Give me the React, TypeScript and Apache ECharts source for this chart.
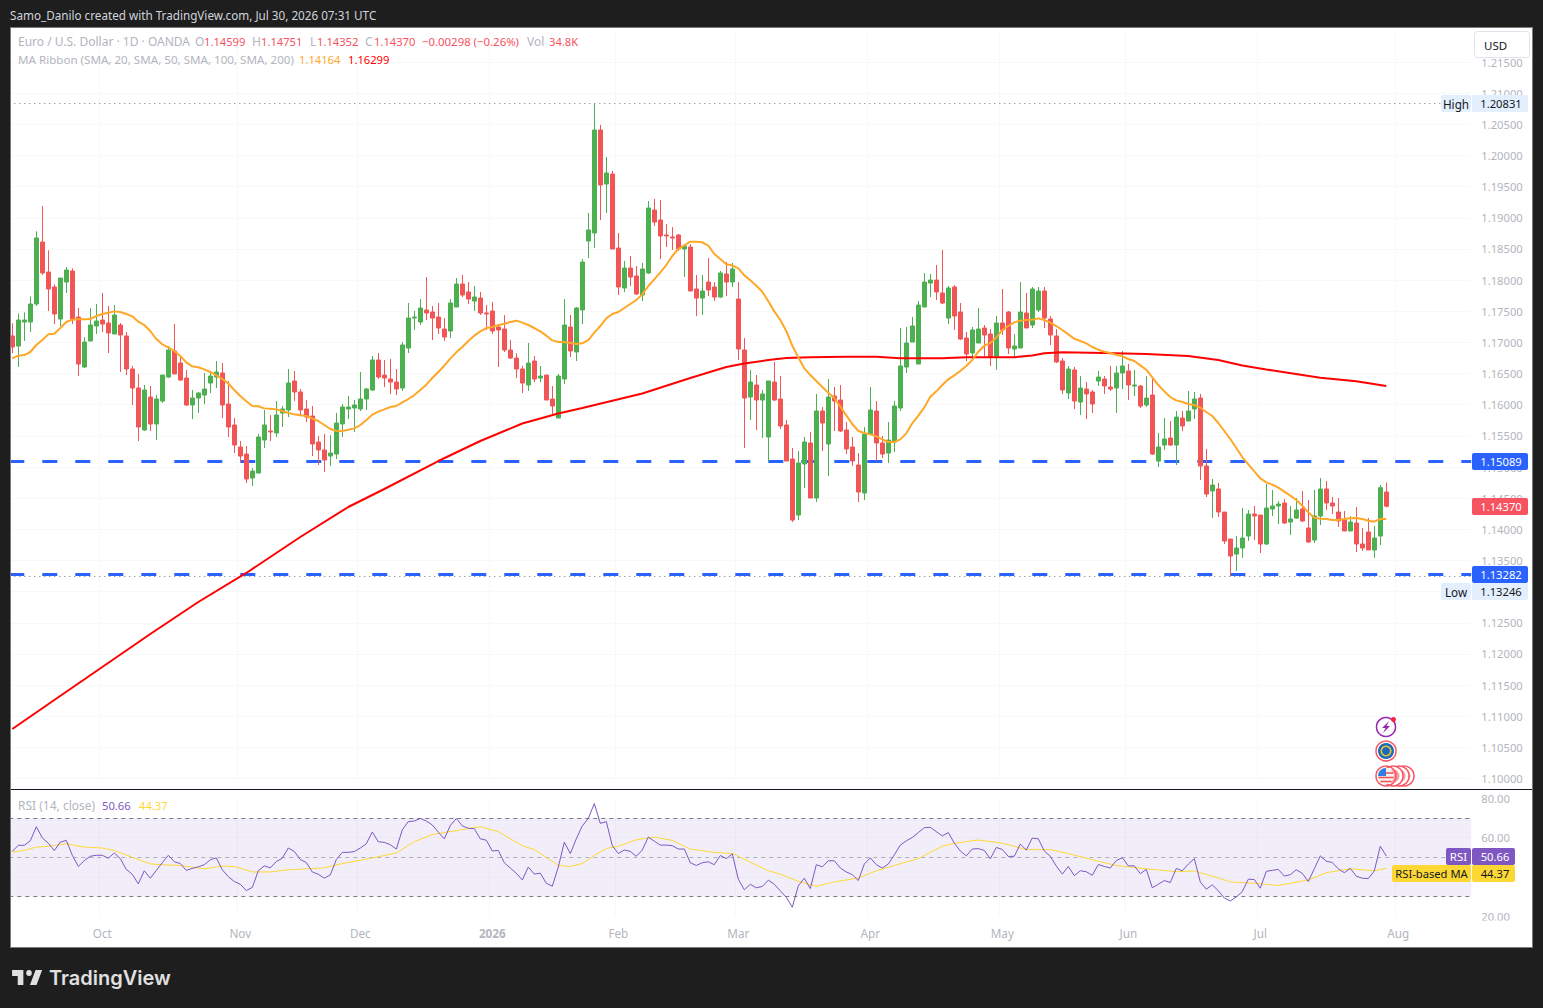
import React, { useEffect, useRef } from "react";
import * as echarts from "echarts";

const FONT = '"Noto Sans", sans-serif';
const GREEN = "#4caf50";
const RED = "#f25555";

// each row: open, close, low, high
const candles2025a = [
[1.17103,1.16926,1.16830,1.17306],[1.16942,1.17359,1.16605,1.17466],[1.17327,1.17359,1.17022,1.17482],[1.17327,1.17616,1.17167,1.17739],
[1.17616,1.18676,1.17584,1.18783],[1.18611,1.18114,1.18082,1.19189],[1.18130,1.17857,1.17504,1.18478],[1.17889,1.17456,1.17295,1.17932],
[1.17375,1.18033,1.17263,1.18033],[1.17969,1.18162,1.17793,1.18210],[1.18146,1.17375,1.17295,1.18189],[1.17407,1.16653,1.16460,1.17552],
[1.16605,1.17006,1.16589,1.17086],[1.17022,1.17279,1.17022,1.17552],[1.17263,1.17343,1.17135,1.17616],[1.17359,1.17295,1.17167,1.17793],
[1.17311,1.17151,1.16830,1.17584],[1.17135,1.17440,1.17135,1.17600],[1.17279,1.17119,1.16525,1.17311],[1.17103,1.16573,1.16476,1.17167],
[1.16573,1.16268,1.15995,1.16621],[1.16268,1.15642,1.15417,1.16493],[1.15594,1.16236,1.15578,1.16316],[1.16123,1.15690,1.15578,1.16300],
[1.15690,1.16091,1.15433,1.16155],[1.16059,1.16476,1.16027,1.16476],[1.16444,1.16878,1.16428,1.16942],[1.16862,1.16493,1.16493,1.17295],
[1.16669,1.16396,1.16380,1.16771],[1.16428,1.15995,1.15979,1.16557],[1.15995,1.16107,1.15770,1.16236],[1.16107,1.16188,1.15866,1.16204],
[1.16155,1.16252,1.16011,1.16509],[1.16348,1.16460,1.16188,1.16525],[1.16444,1.16525,1.16268,1.16701],[1.16509,1.15995,1.15786,1.16669],
[1.16011,1.15642,1.15481,1.16380],[1.15674,1.15353,1.15224,1.15786],[1.15321,1.15176,1.15064,1.15417],[1.15208,1.14807,1.14743,1.15337],
[1.14823,1.14935,1.14695,1.14984],[1.14903,1.15481,1.14903,1.15529],[1.15433,1.15674,1.15305,1.15915],[1.15578,1.15562,1.15417,1.15835],
[1.15546,1.15835,1.15481,1.16059],[1.15866,1.15931,1.15642,1.15979],[1.15915,1.16348,1.15802,1.16573],[1.16380,1.16204,1.16059,1.16541],
[1.16204,1.15915,1.15818,1.16252],[1.15931,1.15802,1.15722,1.16075],[1.15818,1.15369,1.15176,1.15979],[1.15401,1.15273,1.15032,1.15497],
[1.15273,1.15112,1.14919,1.15529],[1.15176,1.15224,1.15016,1.15513],[1.15208,1.15706,1.15128,1.15866],[1.15690,1.15963,1.15481,1.16011],
[1.15931,1.15963,1.15770,1.16139],[1.15947,1.15995,1.15562,1.16075],[1.15931,1.16091,1.15899,1.16525],[1.16091,1.16252,1.15915,1.16268],
[1.16236,1.16717,1.16220,1.16781],[1.16717,1.16444,1.16412,1.16830],[1.16476,1.16428,1.16284,1.16717],[1.16412,1.16364,1.16172,1.16733],
[1.16364,1.16252,1.16155,1.16573],[1.16268,1.16958,1.16220,1.17006],[1.16910,1.17391,1.16830,1.17632],[1.17391,1.17407,1.17199,1.17504],
[1.17327,1.17552,1.17279,1.17696],[1.17520,1.17472,1.17359,1.18049],[1.17488,1.17391,1.17038,1.17584],[1.17407,1.17231,1.17135,1.17632],
[1.17215,1.17086,1.17022,1.17391],[1.17183,1.17632,1.17070,1.17696],[1.17568,1.17937,1.17568,1.18033],[1.17937,1.17761,1.17728,1.18082],
[1.17809,1.17696,1.17616,1.17969],[1.17664,1.17728,1.17504,1.17905],[1.17712,1.17472,1.17440,1.17809],[1.17472,1.17456,1.17199,1.17600],
];
const candles2026a = [
[1.17504,1.17183,1.17135,1.17648],[1.17247,1.17199,1.16605,1.17295],[1.17215,1.16878,1.16846,1.17440],[1.16878,1.16749,1.16733,1.17038],
[1.16749,1.16573,1.16428,1.16830],[1.16573,1.16348,1.16188,1.16621],[1.16316,1.16669,1.16220,1.16990],[1.16701,1.16412,1.16364,1.16781],
[1.16428,1.16460,1.16364,1.16621],[1.16476,1.16075,1.16075,1.16476],[1.16091,1.15979,1.15850,1.16300],[1.15786,1.16460,1.15786,1.16493],
[1.16412,1.17279,1.16332,1.17696],[1.17247,1.16862,1.16765,1.17440],[1.16846,1.17552,1.16701,1.17568],[1.17520,1.18290,1.17295,1.18338],
[1.18627,1.18804,1.18354,1.19077],[1.18756,1.20409,1.18515,1.20831],[1.20409,1.19526,1.18964,1.20489],[1.19542,1.19719,1.19077,1.19976],
[1.19703,1.18499,1.18499,1.19751],[1.18515,1.17889,1.17761,1.18756],[1.17873,1.18194,1.17809,1.18306],[1.18194,1.18049,1.17905,1.18387],
[1.18066,1.17777,1.17761,1.18226],[1.17761,1.18178,1.17664,1.18274],[1.18114,1.19157,1.18098,1.19269],[1.19125,1.18932,1.18868,1.19302],
[1.18964,1.18708,1.18338,1.19285],[1.18724,1.18708,1.18531,1.18900],[1.18692,1.18676,1.18483,1.18852],[1.18724,1.18499,1.18467,1.18740],
[1.18499,1.18547,1.18049,1.18547],[1.18531,1.17825,1.17825,1.18579],[1.17857,1.17712,1.17424,1.18082],[1.17712,1.17825,1.17440,1.18082],
[1.17969,1.17841,1.17745,1.18354],[1.17889,1.17728,1.17664,1.17969],[1.17728,1.18114,1.17712,1.18146],[1.18098,1.17969,1.17745,1.18290],
[1.17969,1.18178,1.17889,1.18274],[1.17696,1.16894,1.16717,1.17969],[1.16878,1.16107,1.15305,1.17070],[1.16123,1.16364,1.15754,1.16557],
[1.16316,1.16075,1.15594,1.16476],[1.16075,1.16172,1.15465,1.16236],[1.15481,1.16380,1.15080,1.16380],[1.16364,1.16075,1.16059,1.16685],
[1.16091,1.15658,1.15610,1.16460],[1.15674,1.15096,1.15096,1.15754],[1.15128,1.14149,1.14117,1.15305],[1.14229,1.15064,1.14149,1.15256],
[1.15048,1.15401,1.14663,1.15481],[1.15385,1.14502,1.14502,1.15562],[1.14502,1.15899,1.14438,1.16172],[1.15899,1.15706,1.15256,1.15963],
[1.15369,1.16123,1.14855,1.16412],[1.16139,1.16059,1.15578,1.16284],[1.16075,1.15578,1.15562,1.16316],[1.15594,1.15289,1.15208,1.15722],
[1.15321,1.15096,1.15016,1.15481],[1.15032,1.14598,1.14438,1.15224],[1.14582,1.15529,1.14470,1.15642],[1.15529,1.15915,1.15529,1.16284],
[1.15899,1.15385,1.15096,1.16059],[1.15385,1.15208,1.15144,1.15497],[1.15224,1.15433,1.15064,1.15722],[1.15401,1.15979,1.15240,1.16059],
[1.15947,1.16621,1.15899,1.17231],[1.16605,1.16990,1.16509,1.17247],[1.17006,1.17263,1.17006,1.17407],[1.16653,1.17600,1.16653,1.17664],
[1.17568,1.17969,1.17568,1.18114],[1.17953,1.18001,1.17728,1.18098],[1.18001,1.17809,1.17680,1.18242],[1.17793,1.17632,1.17616,1.18483],
[1.17391,1.17873,1.17295,1.17905],[1.17889,1.17424,1.17199,1.17921],[1.17488,1.17054,1.17038,1.17632],[1.17070,1.16814,1.16701,1.17167],
];
const candles2026b = [
[1.16830,1.17199,1.16733,1.17247],[1.16990,1.17215,1.16990,1.17552],[1.17231,1.17119,1.16781,1.17279],[1.17135,1.16765,1.16621,1.17215],
[1.16781,1.17311,1.16557,1.17424],[1.17311,1.17199,1.17119,1.17857],[1.17488,1.16910,1.16814,1.17504],[1.16894,1.16942,1.16765,1.17135],
[1.16910,1.17488,1.16910,1.17969],[1.17472,1.17231,1.17231,1.17793],[1.17279,1.17857,1.17231,1.17889],[1.17520,1.17825,1.17488,1.17889],
[1.17825,1.17391,1.17231,1.17889],[1.17375,1.17119,1.16958,1.17424],[1.17103,1.16685,1.16669,1.17215],[1.16701,1.16236,1.16172,1.16749],
[1.16188,1.16573,1.16091,1.16621],[1.16557,1.16059,1.15931,1.16605],[1.16043,1.16268,1.15835,1.16460],[1.16252,1.16172,1.15770,1.16364],
[1.16204,1.16011,1.15866,1.16236],[1.16380,1.16444,1.16300,1.16541],[1.16412,1.16300,1.16172,1.16460],[1.16284,1.16252,1.16220,1.16621],
[1.16268,1.16509,1.15866,1.16621],[1.16509,1.16621,1.16252,1.16862],[1.16541,1.16316,1.16075,1.16653],[1.16300,1.16316,1.16139,1.16557],
[1.16300,1.15979,1.15947,1.16316],[1.15995,1.16107,1.15963,1.16460],[1.16155,1.15208,1.15192,1.16444],[1.15096,1.15321,1.15000,1.15546],
[1.15353,1.15449,1.15273,1.15786],[1.15465,1.15353,1.15337,1.15738],[1.15353,1.15802,1.15032,1.15899],[1.15786,1.15658,1.15578,1.15899],
[1.15738,1.15899,1.15738,1.16220],[1.15931,1.16091,1.15770,1.16204],[1.16107,1.15016,1.14791,1.16172],[1.15016,1.14566,1.14518,1.15289],
[1.14614,1.14711,1.14181,1.14807],[1.14647,1.14277,1.14197,1.14743],[1.14277,1.13812,1.13764,1.14277],[1.13844,1.13571,1.13246,1.13844],
[1.13603,1.13700,1.13330,1.13892],[1.13700,1.13860,1.13539,1.14342],[1.13892,1.14245,1.13812,1.14310],[1.14245,1.14213,1.13828,1.14374],
[1.14229,1.13764,1.13619,1.14229],[1.13764,1.14342,1.13748,1.14727],[1.14326,1.14374,1.14213,1.14631],[1.14374,1.14406,1.14085,1.14454],
[1.14422,1.14101,1.14085,1.14486],[1.14117,1.14165,1.13908,1.14374],[1.14181,1.14310,1.14165,1.14502],[1.14326,1.14133,1.14117,1.14614],
[1.14021,1.13796,1.13780,1.14470],[1.13828,1.14213,1.13780,1.14631],[1.14213,1.14647,1.14069,1.14823],[1.14647,1.14422,1.14310,1.14775],
[1.14422,1.14374,1.14245,1.14518],[1.14277,1.14133,1.14037,1.14502],[1.14149,1.13973,1.13973,1.14293],[1.13973,1.14117,1.13973,1.14213],
[1.14101,1.13764,1.13635,1.14358],[1.13764,1.13700,1.13651,1.14021],[1.13957,1.13668,1.13668,1.14181],[1.13668,1.13860,1.13539,1.14053],
[1.13892,1.14668,1.13748,1.14711],[1.14599,1.14370,1.14352,1.14751],
];

const ma20 = [
1.16744,1.16787,1.16797,1.16846,1.16958,1.17038,1.17129,1.17140,1.17231,1.17327,1.17365,1.17370,1.17370,1.17375,1.17424,1.17456,1.17477,1.17498,1.17488,1.17456,
1.17418,1.17333,1.17279,1.17183,1.17054,1.16969,1.16921,1.16862,1.16781,1.16680,1.16616,1.16600,1.16567,1.16525,1.16471,1.16412,1.16343,1.16236,1.16139,1.16054,
1.15979,1.15974,1.15941,1.15936,1.15925,1.15899,1.15866,1.15845,1.15829,1.15818,1.15776,1.15738,1.15674,1.15610,1.15583,1.15578,1.15599,1.15620,1.15674,1.15754,
1.15840,1.15888,1.15925,1.15963,1.15979,1.16038,1.16091,1.16155,1.16236,1.16321,1.16428,1.16525,1.16626,1.16739,1.16840,1.16926,1.17022,1.17108,1.17177,1.17231,
1.17247,1.17274,1.17300,1.17327,1.17349,1.17317,1.17279,1.17231,1.17177,1.17108,1.17033,1.17006,1.17006,1.16990,1.16974,1.16985,1.17038,1.17156,1.17263,1.17386,
1.17456,1.17488,1.17552,1.17616,1.17680,1.17771,1.17905,1.18012,1.18124,1.18242,1.18387,1.18499,1.18558,1.18617,1.18617,1.18606,1.18553,1.18419,1.18338,1.18253,
1.18237,1.18189,1.18076,1.17996,1.17910,1.17814,1.17659,1.17498,1.17359,1.17183,1.16947,1.16760,1.16583,1.16476,1.16380,1.16284,1.16193,1.16107,1.15968,1.15829,
1.15690,1.15578,1.15546,1.15524,1.15492,1.15444,1.15401,1.15401,1.15444,1.15540,1.15701,1.15824,1.15957,1.16128,1.16214,1.16316,1.16407,1.16471,1.16541,1.16621,
1.16717,1.16851,1.16947,1.16990,1.17076,1.17199,1.17263,1.17322,1.17349,1.17359,1.17365,1.17386,1.17359,1.17317,1.17263,1.17199,1.17129,1.17059,1.17022,1.16985,
1.16926,1.16883,1.16851,1.16830,1.16803,1.16776,1.16733,1.16701,1.16632,1.16562,1.16439,1.16316,1.16214,1.16123,1.16070,1.16043,1.16011,1.15995,1.15952,1.15883,
1.15818,1.15706,1.15578,1.15449,1.15305,1.15160,1.15043,1.14930,1.14818,1.14754,1.14716,1.14668,1.14604,1.14540,1.14470,1.14379,1.14272,1.14186,1.14170,1.14165,
1.14149,1.14149,1.14165,1.14176,1.14181,1.14165,1.14138,1.14122,1.14165,1.14164,
];

// [candle number, value] as read at the places where the line bends
const ma200 = [
[0,1.10795],[7,1.11260],[15,1.11790],[23,1.12320],[31,1.12833],[39,1.13299],[48,1.13876],[56,1.14358],[62,1.14647],[71,1.15096],
[78,1.15417],[85,1.15698],[91,1.15859],[95,1.15947],[105,1.16180],[113,1.16429],[119,1.16605],[122,1.16661],[126,1.16717],[129,1.16750],
[133,1.16761],[139,1.16770],[144,1.16770],[148,1.16745],[155,1.16745],[159,1.16761],[167,1.16761],[170,1.16790],[172,1.16825],[175,1.16841],
[182,1.16830],[189,1.16814],[196,1.16782],[201,1.16717],[205,1.16629],[209,1.16565],[215,1.16477],[218,1.16433],[224,1.16376],[229,1.16299],
];

const rsi = [
53.0,56.1,56.1,58.4,65.6,59.9,57.2,53.4,57.7,58.6,51.0,45.3,48.3,50.5,51.0,51.0,49.5,52.2,49.3,43.8,
41.3,36.4,43.1,39.3,43.3,47.2,51.0,47.7,46.8,43.3,44.3,45.1,46.2,48.7,49.7,43.6,40.1,37.6,36.2,33.0,
34.6,43.1,45.6,44.6,47.8,49.5,54.7,53.0,48.8,47.3,42.5,41.3,39.3,41.0,48.8,52.5,52.5,52.9,54.7,56.9,
62.9,57.9,57.6,56.4,54.2,64.0,68.2,68.5,69.8,68.5,66.5,62.8,59.4,66.2,69.8,66.0,64.8,64.6,59.4,58.7,
53.2,53.5,47.2,44.5,41.8,38.4,45.0,41.4,41.9,36.7,35.2,45.0,57.7,51.9,59.4,66.0,69.8,77.4,67.3,68.2,
55.9,51.9,53.7,53.0,50.5,53.7,60.3,58.2,56.2,56.2,55.9,54.2,54.2,47.2,45.8,47.2,47.7,46.2,50.9,49.3,
51.7,38.8,33.4,36.2,34.4,35.1,38.3,36.2,32.9,29.5,24.5,35.4,39.3,34.0,46.2,45.1,48.2,48.2,44.5,42.5,
41.1,38.1,46.5,49.7,46.2,44.5,46.5,51.2,56.2,58.4,60.1,62.6,65.1,65.3,63.1,60.9,62.6,57.2,53.2,50.7,
54.2,54.4,53.5,49.2,55.0,54.0,50.4,50.5,56.7,53.7,59.8,59.4,53.2,50.5,45.5,41.4,45.3,40.6,43.1,42.6,
40.8,46.3,45.3,44.5,48.3,49.8,45.6,45.6,41.6,43.8,34.4,36.2,38.1,37.1,44.3,43.1,46.5,49.3,37.4,33.7,
35.9,32.9,29.2,27.7,29.7,32.5,38.8,38.6,34.2,42.8,43.3,43.8,40.4,41.1,43.6,41.8,37.6,44.1,50.7,48.0,
47.3,44.1,42.1,44.3,40.3,39.3,39.1,43.0,55.6,50.66,
];

// [candle number, value]
const rsiMa = [
[0,52.7],[2,53.5],[4,55.2],[6,55.6],[9,56.9],[12,55.2],[15,54.7],[17,53.5],[20,50.0],[23,46.6],[25,46.2],[28,45.8],[32,44.1],[35,45.5],[37,45.3],
[40,42.5],[43,42.5],[46,43.6],[49,44.1],[52,44.6],[55,46.8],[59,49.0],[64,52.2],[67,57.9],[70,61.6],[74,63.6],[78,65.6],[81,63.1],[83,59.4],[85,55.9],
[87,53.9],[89,50.0],[91,45.8],[93,45.3],[95,46.8],[97,50.9],[99,54.5],[101,55.6],[104,58.9],[107,60.3],[110,58.6],[113,54.2],[117,52.5],[120,51.9],[123,47.5],
[126,43.1],[128,41.4],[131,37.7],[134,35.2],[137,37.4],[141,39.4],[144,43.1],[147,45.8],[151,49.3],[155,55.6],[157,57.2],[161,58.8],[165,57.2],[169,53.9],[173,53.9],
[176,51.9],[180,48.7],[184,45.8],[189,44.1],[194,42.6],[197,43.0],[201,39.4],[203,37.4],[207,36.7],[211,35.6],[216,38.4],[219,42.1],[223,44.1],[227,43.1],[229,44.37],
];

const closedDays = ["2025-12-25", "2026-01-01"];
const monthTicks: Record<string, string> = {
  "2025-10-01": "Oct", "2025-11-03": "Nov", "2025-12-01": "Dec", "2026-01-02": "2026", "2026-02-02": "Feb",
  "2026-03-02": "Mar", "2026-04-01": "Apr", "2026-05-01": "May", "2026-06-01": "Jun", "2026-07-01": "Jul", "2026-08-03": "Aug",
};
const priceGrid = [1.10,1.105,1.11,1.115,1.12,1.125,1.13,1.135,1.14,1.145,1.15,1.155,1.16,1.165,1.17,1.175,1.18,1.185,1.19,1.195,1.20,1.205,1.21,1.215];
const rsiGrid = [60, 40];
const resistance = 1.15089;
const support = 1.13282;
const highPrice = 1.20831;
const lowPrice = 1.13246;

function tradingDays(): string[] {
  const out: string[] = [];
  const d = new Date(Date.UTC(2025, 8, 10));
  while (out.length < 244) {
    const s = d.toISOString().slice(0, 10);
    const wd = d.getUTCDay();
    if (wd !== 0 && wd !== 6 && !closedDays.includes(s)) out.push(s);
    d.setUTCDate(d.getUTCDate() + 1);
  }
  return out;
}

const NUM = 11.2;
function txt(x: number, y: number, text: string, fill: string, extra: any = {}) {
  return {
    type: "text", x, y, z: 40, silent: true,
    style: { text, fill, font: `${extra.weight || 400} ${extra.size || 12}px ${extra.family || FONT}`, textAlign: extra.align || "left", textVerticalAlign: "middle" },
  };
}
function box(x: number, y: number, w: number, h: number, fill: string, z = 30, r = 0) {
  return { type: "rect", z, silent: true, shape: { x, y, width: w, height: h, r }, style: { fill } };
}

export default function App() {
  const ref = useRef<HTMLDivElement>(null);
  useEffect(() => {
    const chart = echarts.init(ref.current!, undefined, { renderer: "svg" });
    echarts.graphic.registerShape(
      "tvlogo",
      echarts.graphic.extendPath("M14 6H2v6h6v9h6V6zm14 15h-7l6-15h7l-6 15zm-8-9a3 3 0 1 0 0-6 3 3 0 0 0 0 6z" as any, {}) as any
    );
    const days = tradingDays();
    const candles = [...candles2025a, ...candles2026a, ...candles2026b];
    const showTick = (i: number) => !!monthTicks[days[i]];
    const xBase = (gridIndex: number, labels: boolean) => ({
      type: "category", gridIndex, data: days, boundaryGap: true,
      axisLine: { show: false }, axisTick: { show: false },
      splitLine: { show: true, interval: showTick, lineStyle: { color: "#f7f8fa", width: 1 } },
      axisLabel: labels
        ? {
            show: true, interval: showTick, margin: 11, fontFamily: FONT, fontSize: 11.7, color: "#b2b5be",
            formatter: (v: string) => (monthTicks[v] === "2026" ? "{b|2026}" : monthTicks[v] || ""),
            rich: { b: { fontFamily: FONT, fontSize: 11.7, fontWeight: 700, color: "#b2b5be" } },
          }
        : { show: false },
    });
    const hline = (v: number, color: string, type: any, width: number) => ({
      yAxis: v, lineStyle: { color, type, width },
    });
    const lineDefaults = { symbol: "none", silent: true, label: { show: false }, emphasis: { disabled: true } };

    const usFlag = (cx: number, cy: number) => [
      { type: "circle", z: 34, silent: true, shape: { cx, cy, r: 8 }, style: { fill: "#f2f2f2" } },
      { type: "sector", z: 35, silent: true, shape: { cx, cy, r: 8, r0: 0, startAngle: Math.PI, endAngle: 1.5 * Math.PI }, style: { fill: "#2e7de1" } },
      { type: "line", z: 35, silent: true, shape: { x1: cx, y1: cy - 3, x2: cx + 7.4, y2: cy - 3 }, style: { stroke: "#f25555", lineWidth: 1.6 } },
      { type: "line", z: 35, silent: true, shape: { x1: cx - 7.6, y1: cy + 1.5, x2: cx + 7.6, y2: cy + 1.5 }, style: { stroke: "#f25555", lineWidth: 1.6 } },
      { type: "line", z: 35, silent: true, shape: { x1: cx - 5.6, y1: cy + 5.5, x2: cx + 5.6, y2: cy + 5.5 }, style: { stroke: "#f25555", lineWidth: 1.6 } },
      { type: "circle", z: 36, silent: true, shape: { cx, cy, r: 10 }, style: { fill: "none", stroke: "#f7525f", lineWidth: 1.5 } },
    ];
    const flagBack = (cx: number, cy: number, z: number) => [
      { type: "circle", z, silent: true, shape: { cx, cy, r: 10 }, style: { fill: "#fff", stroke: "#f7525f", lineWidth: 1.5 } },
      { type: "circle", z, silent: true, shape: { cx, cy, r: 6.5 }, style: { fill: "#f9a0a0" } },
    ];
    const num = { size: NUM };
    const numC = { size: NUM, align: "center" };

    const graphics: any[] = [
      // covers that end the plot at the pane's edges
      box(0, 0, 10, 1008, "#1e1e1e", 6),
      box(10, 27, 1, 921, "#7b7b7b", 6),
      box(1471.2, 28, 60.8, 919, "#ffffff", 6),
      box(11, 789, 1521, 1, "#131722", 7),

      txt(10, 15, "Samo_Danilo created with TradingView.com, Jul 30, 2026 07:31 UTC", "#d1d4dc", { size: 11.7 }),
      txt(18, 41, "Euro / U.S. Dollar · 1D · OANDA", "#b2b5be"),
      txt(195, 41, "O", "#b2b5be"), txt(204, 41, "1.14599", "#f7525f", num),
      txt(252, 41, "H", "#b2b5be"), txt(261, 41, "1.14751", "#f7525f", num),
      txt(310, 41, "L", "#b2b5be"), txt(317, 41, "1.14352", "#f7525f", num),
      txt(365, 41, "C", "#b2b5be"), txt(374, 41, "1.14370", "#f7525f", num),
      txt(422, 41, "−0.00298 (−0.26%)", "#f7525f", { size: 11.4 }),
      txt(527, 41, "Vol", "#b2b5be"), txt(549, 41, "34.8K", "#f7525f", num),
      txt(18, 59, "MA Ribbon (SMA, 20, SMA, 50, SMA, 100, SMA, 200)", "#b2b5be", { size: 11.6 }),
      txt(299, 59, "1.14164", "#ffa726", num), txt(348, 59, "1.16299", "#ff0000", num),
      txt(18, 805, "RSI (14, close)", "#b2b5be"),
      txt(102, 805, "50.66", "#7e57c2", num), txt(139, 805, "44.37", "#fdd835", num),

      box(1474.5, 31.5, 55, 26, "#ffffff", 30, 3),
      { type: "rect", z: 31, silent: true, shape: { x: 1474.5, y: 31.5, width: 55, height: 26, r: 3 }, style: { fill: "none", stroke: "#e0e3eb", lineWidth: 1 } },
      txt(1484, 45, "USD", "#131722", { size: 11.5 }),

      box(1441, 95, 30, 17, "#e3effd", 30, 2), txt(1456, 103.5, "High", "#131722", { align: "center", size: 11.7 }),
      box(1472, 95, 56, 17, "#e3effd", 30, 2), txt(1501, 103.5, "1.20831", "#131722", numC),
      box(1472, 453, 56, 17, "#2962ff", 30, 2), txt(1501, 461.5, "1.15089", "#ffffff", numC),
      box(1472, 498, 56, 17, "#f7525f", 30, 2), txt(1501, 506.5, "1.14370", "#ffffff", numC),
      box(1472, 566, 56, 17, "#2962ff", 30, 2), txt(1501, 574.5, "1.13282", "#ffffff", numC),
      box(1441, 583, 30, 17, "#e3effd", 30, 2), txt(1456, 591.5, "Low", "#131722", { align: "center", size: 11.7 }),
      box(1472, 583, 56, 17, "#e3effd", 30, 2), txt(1501, 591.5, "1.13246", "#131722", numC),

      box(1446, 848, 25, 17, "#7e57c2", 30, 2), txt(1458.5, 856.5, "RSI", "#ffffff", { align: "center", size: 11.5 }),
      box(1472, 848, 43, 17, "#7e57c2", 30, 2), txt(1495, 856.5, "50.66", "#ffffff", numC),
      box(1392, 865, 79, 17, "#fdd835", 30, 2), txt(1431.5, 873.5, "RSI-based MA", "#131722", numC),
      box(1472, 865, 43, 17, "#fdd835", 30, 2), txt(1495, 873.5, "44.37", "#131722", numC),
      box(1474, 920.5, 56, 5, "#ffffff", 30),

      // news and dividend style markers
      { type: "circle", z: 33, silent: true, shape: { cx: 1386, cy: 727, r: 9.5 }, style: { fill: "#fff", stroke: "#9c27b0", lineWidth: 1.5 } },
      { type: "polygon", z: 34, silent: true, shape: { points: [[1389, 721], [1382, 728], [1385.5, 728], [1383, 733], [1390, 726], [1386.5, 726]] }, style: { fill: "#9c27b0" } },
      { type: "circle", z: 35, silent: true, shape: { cx: 1393.5, cy: 719.5, r: 2.5 }, style: { fill: "#f7253f" } },
      { type: "circle", z: 33, silent: true, shape: { cx: 1386, cy: 751, r: 10 }, style: { fill: "#fff", stroke: "#f7525f", lineWidth: 1.5 } },
      { type: "circle", z: 34, silent: true, shape: { cx: 1386, cy: 751, r: 8 }, style: { fill: "#1e6bb8" } },
      { type: "ring", z: 35, silent: true, shape: { cx: 1386, cy: 751, r: 5.5, r0: 4 }, style: { fill: "#e8c53a" } },
      ...flagBack(1404, 776, 31),
      ...flagBack(1399, 776, 32),
      ...flagBack(1393, 776, 33),
      ...usFlag(1386, 776),

      { type: "tvlogo", z: 40, silent: true, x: 10.2, y: 964, scaleX: 0.94, scaleY: 1, style: { fill: "#e0e0e0" } },
      txt(49, 978, "TradingView", "#e0e0e0", { size: 20, weight: 600, family: '"Inter", sans-serif' }),
    ];

    chart.setOption({
      animation: false,
      backgroundColor: "transparent",
      tooltip: { show: false },
      axisPointer: { show: false },
      grid: [
        { left: 9.3, top: 30.9, width: 1464, height: 747.6 },
        { left: 9.3, top: 798.5, width: 1464, height: 117.5 },
      ],
      xAxis: [xBase(0, false), xBase(1, true)],
      yAxis: [
        {
          type: "value", gridIndex: 0, position: "right", min: 1.1, max: 1.22, interval: 0.005, z: 10, scale: true,
          axisLine: { show: false }, axisTick: { show: false },
          axisLabel: {
            margin: 8, fontFamily: FONT, fontSize: NUM, color: "#b2b5be",
            formatter: (v: number) => (v > 1.2175 ? "" : v.toFixed(5)),
          },
          splitLine: { show: false },
        },
        {
          type: "value", gridIndex: 1, position: "right", min: 20, max: 80, interval: 20, z: 10,
          axisLine: { show: false }, axisTick: { show: false },
          axisLabel: { margin: 8, fontFamily: FONT, fontSize: NUM, color: "#b2b5be", formatter: (v: number) => v.toFixed(2) },
          splitLine: { show: false },
        },
      ],
      series: [
        {
          type: "line", name: "Levels", xAxisIndex: 0, yAxisIndex: 0, data: [], z: 1, silent: true,
          markLine: {
            ...lineDefaults, z: 1, animation: false, precision: 5,
            data: [
              ...priceGrid.map((v) => hline(v, "#f7f8fa", "solid", 1)),
              hline(highPrice, "#787b86", [1, 4], 1),
              hline(lowPrice, "#787b86", [1, 4], 1),
              hline(resistance, "#2962ff", [15, 18], 3),
              hline(support, "#2962ff", [15, 18], 3),
            ],
          },
        },
        {
          type: "candlestick", name: "EURUSD", xAxisIndex: 0, yAxisIndex: 0, data: candles, barWidth: 4, z: 2, silent: true,
          itemStyle: { color: GREEN, color0: RED, borderColor: GREEN, borderColor0: RED, borderWidth: 1 },
        },
        {
          type: "line", name: "MA 200", xAxisIndex: 0, yAxisIndex: 0, data: ma200, showSymbol: false, symbol: "none", z: 3, silent: true,
          lineStyle: { color: "#ff0000", width: 2 },
        },
        {
          type: "line", name: "MA 20", xAxisIndex: 0, yAxisIndex: 0, data: ma20, showSymbol: false, symbol: "none", z: 4, silent: true,
          lineStyle: { color: "#ffa726", width: 2 },
        },
        {
          type: "line", name: "RSI", xAxisIndex: 1, yAxisIndex: 1, data: rsi, showSymbol: false, symbol: "none", z: 4, silent: true,
          lineStyle: { color: "#7e57c2", width: 1 },
          markArea: { silent: true, animation: false, z: 1, itemStyle: { color: "rgba(126,87,194,0.1)" }, data: [[{ yAxis: 70 }, { yAxis: 30 }]] },
          markLine: {
            ...lineDefaults, z: 2, animation: false,
            data: [
              ...rsiGrid.map((v) => hline(v, "rgba(120,123,134,0.04)", "solid", 1)),
              hline(70, "#787b86", [4, 4], 1),
              hline(50, "rgba(120,123,134,0.55)", [4, 4], 1),
              hline(30, "#787b86", [4, 4], 1),
            ],
          },
        },
        {
          type: "line", name: "RSI MA", xAxisIndex: 1, yAxisIndex: 1, data: rsiMa, showSymbol: false, symbol: "none", z: 3, silent: true,
          lineStyle: { color: "#fdd835", width: 1 },
        },
      ],
      graphic: { elements: graphics },
    } as any);
    return () => chart.dispose();
  }, []);

  return (
    <div style={{ position: "fixed", left: 0, top: 0, width: 1543, height: 1008, background: "#1e1e1e", overflow: "hidden" }}>
      <div style={{ position: "absolute", left: 10, top: 27, width: 1521, height: 919, background: "#fff", border: "1px solid #7b7b7b" }} />
      <div ref={ref} style={{ position: "absolute", left: 0, top: 0, width: 1543, height: 1008 }} />
    </div>
  );
}
